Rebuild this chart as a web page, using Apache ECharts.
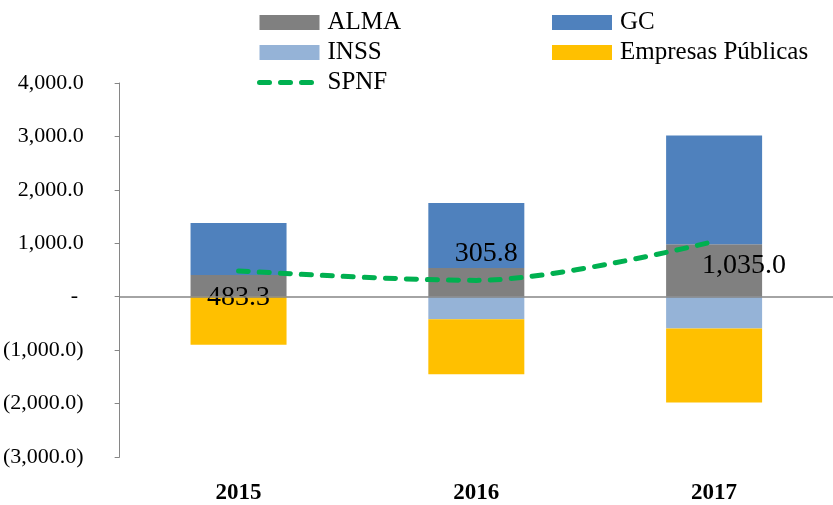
<!DOCTYPE html>
<html>
<head>
<meta charset="utf-8">
<script src="https://cdn.jsdelivr.net/npm/echarts@6/dist/echarts.min.js"></script>
<style>html,body{margin:0;padding:0;background:#fff;overflow:hidden}#c{width:833px;height:505px}</style>
</head>
<body>
<div id="c"></div>
<script>
const categories = ['2015', '2016', '2017'];
const alma = [405, 537, 981];
const gc = [975, 1217, 2037];
const inss = [0, -420, -593];
const empresas = [-897, -1030, -1389];
const spnf = [483.3, 305.8, 1035.0];
const yTicks = { min: -3000, max: 4000, interval: 1000 };

const FONT = 'Liberation Serif';
function fmtNum(v) {
  if (v === 0) return '- ';
  const s = Math.abs(v).toLocaleString('en-US', { minimumFractionDigits: 1, maximumFractionDigits: 1 });
  return v < 0 ? '(' + s + ')' : s;
}
const labelOffsets = [[0, 27], [10, -27], [30, 24]];
const spnfLine = { color: '#00B050', width: 5, type: [10, 11], cap: 'round' };

const chart = echarts.init(document.getElementById('c'), null, { renderer: 'canvas' });
chart.setOption({
  animation: false,
  backgroundColor: '#ffffff',
  textStyle: { fontFamily: FONT },
  grid: { left: 119, top: 83, bottom: 44, width: 722, containLabel: false },
  legend: [
    {
      orient: 'vertical', left: 257, top: 10, padding: 0, itemWidth: 60, itemHeight: 15, itemGap: 5,
      data: [{ name: 'ALMA', icon: 'rect' }, { name: 'INSS', icon: 'rect' }, { name: 'SPNF' }],
      lineStyle: { width: 5, type: [10, 11], cap: 'round' },
      textStyle: { fontFamily: FONT, fontSize: 25, color: '#000', padding: [0, 0, 0, 3] }
    },
    {
      orient: 'vertical', left: 552, top: 10, padding: 0, itemWidth: 60, itemHeight: 15, itemGap: 5,
      data: [{ name: 'GC', icon: 'rect' }, { name: 'Empresas Públicas', icon: 'rect' }],
      textStyle: { fontFamily: FONT, fontSize: 25, color: '#000', padding: [0, 0, 0, 3] }
    }
  ],
  xAxis: {
    type: 'category', data: categories,
    axisLine: { show: false, onZero: false },
    axisTick: { show: false },
    axisLabel: { fontFamily: FONT, fontSize: 23, fontWeight: 'bold', color: '#000', margin: 25 }
  },
  yAxis: {
    type: 'value', min: yTicks.min, max: yTicks.max, interval: yTicks.interval,
    axisLine: { show: true, lineStyle: { color: '#868686', width: 1 } },
    axisTick: { show: true, length: 5, lineStyle: { color: '#868686' } },
    splitLine: { show: false },
    axisLabel: { fontFamily: FONT, fontSize: 22, color: '#000', margin: 36, formatter: fmtNum }
  },
  series: [
    { name: 'ALMA', type: 'bar', stack: 'a', barWidth: 96, data: alma, itemStyle: { color: '#808080' },
      markLine: { silent: true, symbol: 'none', z: 10, label: { show: false },
        lineStyle: { color: '#868686', width: 1.5, type: 'solid' }, data: [{ yAxis: 0 }] } },
    { name: 'GC', type: 'bar', stack: 'a', data: gc, itemStyle: { color: '#4F81BD' } },
    { name: 'INSS', type: 'bar', stack: 'a', data: inss, itemStyle: { color: '#95B3D7' } },
    { name: 'Empresas Públicas', type: 'bar', stack: 'a', data: empresas, itemStyle: { color: '#FFC000' } },
    { name: 'SPNF', type: 'line', smooth: 0.33, z: 5,
      symbol: 'circle', symbolSize: 1,
      itemStyle: { color: 'rgba(0,176,80,0)' },
      lineStyle: spnfLine,
      data: spnf.map((v, i) => ({
        value: v,
        label: { show: true, position: 'inside', offset: labelOffsets[i], fontFamily: FONT, fontSize: 28, color: '#000',
          formatter: p => p.value.toLocaleString('en-US', { minimumFractionDigits: 1, maximumFractionDigits: 1 }) }
      }))
    }
  ]
});
</script>
</body>
</html>
